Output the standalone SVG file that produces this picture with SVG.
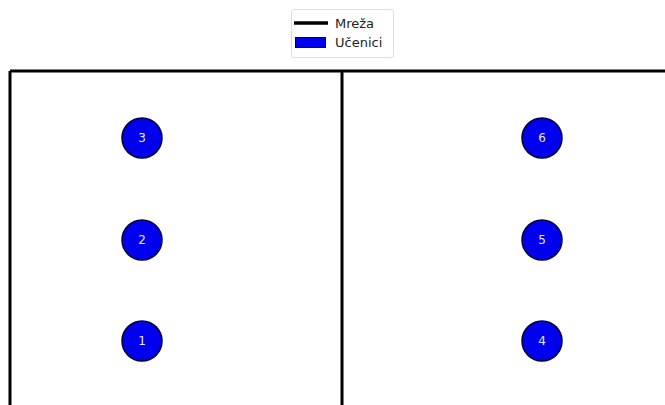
<svg xmlns="http://www.w3.org/2000/svg" width="665" height="405" viewBox="0 0 665 405">
<style>
.net{stroke:#000;stroke-width:3;fill:none}
.node circle{fill:#0000ee;stroke:#000033;stroke-width:1.5}
.node text{fill:#e8e8ff;font-family:"DejaVu Sans",sans-serif;font-size:12px;text-anchor:middle;dominant-baseline:central}
.leg{font-family:"DejaVu Sans",sans-serif;font-size:13px;fill:#222}
</style>
<rect width="665" height="405" fill="#fff"/>
<g id="connectors">
<path class="net" d="M10,71 H667 M10,71 V407 M342,71 V407"/>
</g>
<g id="legend">
<rect x="291.5" y="9.5" width="102" height="48" rx="2" fill="#fff" stroke="#ddd"/>
<line x1="294" y1="23" x2="328" y2="23" stroke="#000" stroke-width="3.5"/>
<rect x="295.5" y="37.5" width="30" height="10" fill="#0000ee" stroke="#000"/>
<text class="leg" x="335" y="27.5">Mreža</text>
<text class="leg" x="335" y="47">Učenici</text>
</g>
<g id="n1" class="node"><circle cx="142" cy="341" r="20"/><text x="142" y="341">1</text></g>
<g id="n2" class="node"><circle cx="142" cy="240" r="20"/><text x="142" y="240">2</text></g>
<g id="n3" class="node"><circle cx="142" cy="138" r="20"/><text x="142" y="138">3</text></g>
<g id="n4" class="node"><circle cx="542" cy="341" r="20"/><text x="542" y="341">4</text></g>
<g id="n5" class="node"><circle cx="542" cy="240" r="20"/><text x="542" y="240">5</text></g>
<g id="n6" class="node"><circle cx="542" cy="138" r="20"/><text x="542" y="138">6</text></g>
</svg>
